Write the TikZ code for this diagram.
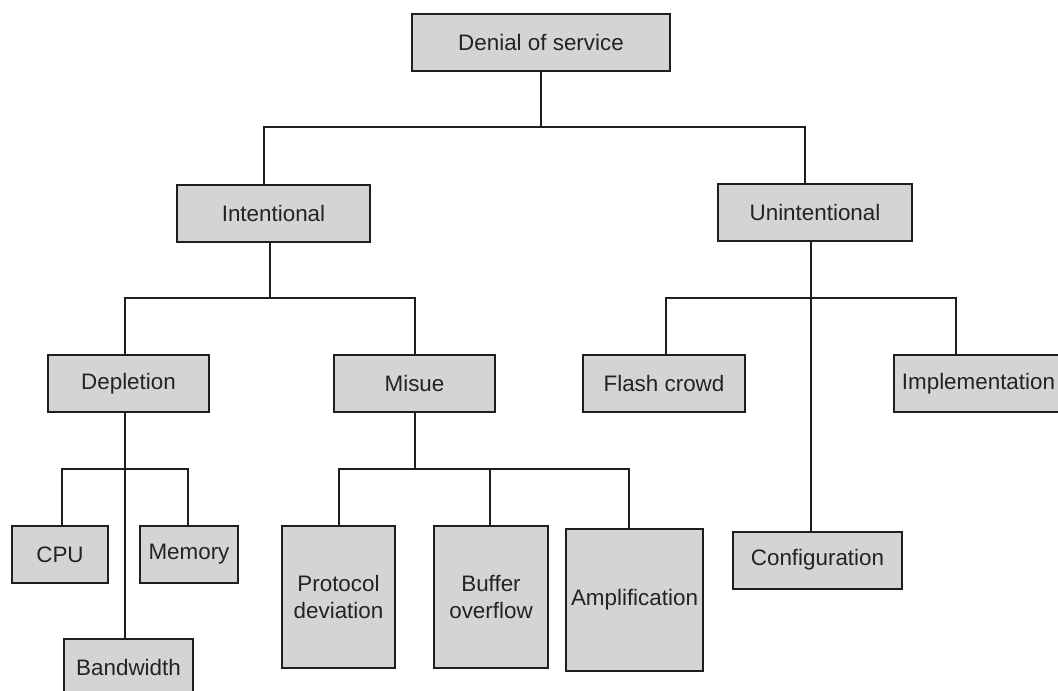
\documentclass[tikz,border=0pt]{standalone}
\usepackage{fontspec}
\setmainfont{Liberation Sans}
\definecolor{linec}{RGB}{30,30,30}
\definecolor{boxfill}{RGB}{212,212,214}
\definecolor{textc}{RGB}{35,35,35}
\begin{document}
\begin{tikzpicture}[x=1pt,y=-1pt,
  box/.style={draw=linec, fill=boxfill, line width=2pt, inner sep=0pt,
    font=\fontsize{22.4}{27}\selectfont, text=textc, align=center,
    minimum height=57pt},
  conn/.style={draw=linec, line width=2pt}]
\path[use as bounding box, clip] (0,0) rectangle (1058,691);
% level 0
\node[box, minimum width=258pt] (dos) at (541,42.5) {Denial of service};
% level 1
\node[box, minimum width=193pt] (int) at (273.5,213) {Intentional};
\node[box, minimum width=194pt] (unint) at (815,212.5) {Unintentional};
% level 2
\node[box, minimum width=161pt] (dep) at (128.5,383.5) {Depletion};
\node[box, minimum width=161pt] (mis) at (414.5,383.5) {Misue};
\node[box, minimum width=162pt] (flash) at (664,383.5) {Flash crowd};
\node[box, minimum width=169pt] (impl) at (978.5,383.5) {Implementation};
\node[box, minimum width=169pt] (conf) at (817.5,560) {Configuration};
% level 3
\node[box, minimum width=96pt] (cpu) at (60,554.5) {CPU};
\node[box, minimum width=98pt] (mem) at (189,554.5) {Memory};
\node[box, minimum width=129pt] (band) at (128.5,667.5) {Bandwidth};
\node[box, minimum width=113pt, minimum height=142pt] (proto) at (338.5,597) {Protocol\\deviation};
\node[box, minimum width=114pt, minimum height=142pt] (buf) at (491,597) {Buffer\\overflow};
\node[box, minimum width=137pt, minimum height=142pt] (amp) at (634.5,600) {Amplification};
% connectors
\coordinate (j0) at (541,127);
\draw[conn] (dos.south) -- (j0);
\draw[conn] (j0) -| ([xshift=-9.5pt]int.north);
\draw[conn] (j0) -| ([xshift=-10pt]unint.north);
\coordinate (j1) at (270,297.5);
\draw[conn] ([xshift=-3.5pt]int.south) -- (j1);
\draw[conn] (j1) -| ([xshift=-3.5pt]dep.north);
\draw[conn] (j1) -| (mis.north);
\coordinate (j2) at (811,298);
\draw[conn] ([xshift=-4pt]unint.south) -- (j2);
\draw[conn] (j2) -| ([xshift=2pt]flash.north);
\draw[conn] (j2) -| ([xshift=-22.5pt]impl.north);
\draw[conn] (j2) -- ([xshift=-6.5pt]conf.north);
\coordinate (j3) at (125,469);
\draw[conn] ([xshift=-3.5pt]dep.south) -- (j3);
\draw[conn] (j3) -| ([xshift=2pt]cpu.north);
\draw[conn] (j3) -| ([xshift=-1pt]mem.north);
\draw[conn] (j3) -- ([xshift=-3.5pt]band.north);
\coordinate (j4) at (414.5,469);
\draw[conn] (mis.south) -- (j4);
\draw[conn] (j4) -| ([xshift=0.5pt]proto.north);
\draw[conn] (j4) -| ([xshift=-1pt]buf.north);
\draw[conn] (j4) -| ([xshift=-5.5pt]amp.north);
\end{tikzpicture}
\end{document}
